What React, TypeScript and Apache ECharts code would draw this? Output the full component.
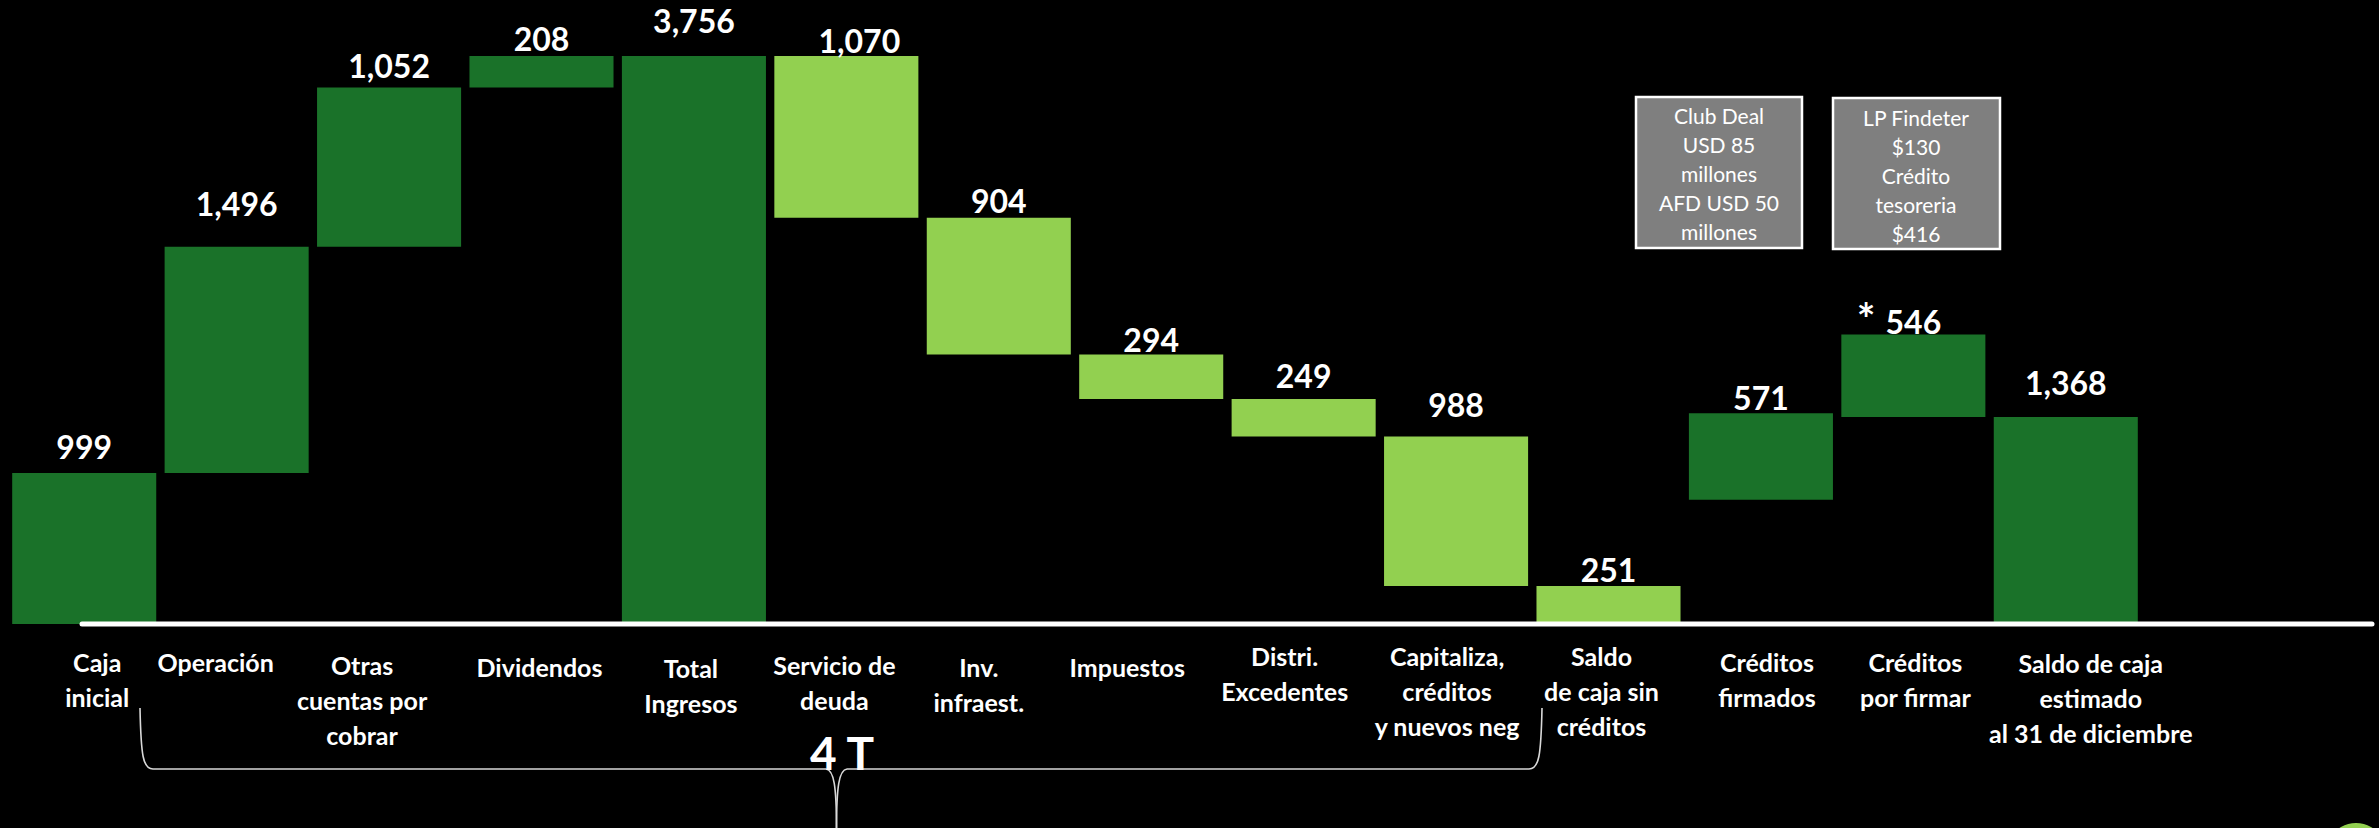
import React, { useEffect, useRef } from "react";
import * as echarts from "echarts";

const categories = [
  "Caja\ninicial",
  "Operación",
  "Otras\ncuentas por\ncobrar",
  "Dividendos",
  "Total\nIngresos",
  "Servicio de\ndeuda",
  "Inv.\ninfraest.",
  "Impuestos",
  "Distri.\nExcedentes",
  "Capitaliza,\ncréditos\ny nuevos neg",
  "Saldo\nde caja sin\ncréditos",
  "Créditos\nfirmados",
  "Créditos\npor firmar",
  "Saldo de caja\nestimado\nal 31 de diciembre",
];

// bar heights (value labels)
const values = [999, 1496, 1052, 208, 3756, 1070, 904, 294, 249, 988, 251, 571, 546, 1368];
// invisible floating bases
const bases = [0, 999, 2495, 3547, 0, 2686, 1782, 1488, 1239, 251, 0, 822, 1368, 0];
// "in" = inflow / total (dark green), "out" = outflow (light green)
const kinds = ["in", "in", "in", "in", "in", "out", "out", "out", "out", "out", "out", "in", "in", "in"];

const box1Lines = ["Club Deal", "USD 85", "millones", "AFD USD 50", "millones"];
const box2Lines = ["LP Findeter", "$130", "Crédito", "tesoreria", "$416"];
const braceText = "4 T";

// style: manual label placement (px) to mimic hand-placed texts
const labelLift = [10, 27, 6, 2, 19, -1, 1, -1, 7, 16, 1, 0, -3, 19];
const labelShiftX = [0, 0, 0, 0, 0, 13, 0, 0, 0, 0, 0, 0, 0, 0];
const catShiftX = [13, -21, -27, -2, -3, -12, -20, -24, -19, -9, -7, 6, 2, 25];
const catShiftY = [6, 6, 9, 11, 12, 9, 11, 11, 0, 0, 0, 6, 6, 7];

const DARK = "#1A7229";
const LIGHT = "#92D050";
const FONT = "Lato, 'Open Sans', sans-serif";

export default function App() {
  const ref = useRef<HTMLDivElement>(null);

  useEffect(() => {
    document.body.style.background = "#000";
    const chart = echarts.init(ref.current!, null, { renderer: "svg" });
    const braceStroke = { stroke: "#D9D9D9", lineWidth: 1.6, fill: null as any };
    chart.setOption({
      animation: false,
      backgroundColor: "#000000",
      grid: { left: 8, width: 2134, top: 19, bottom: 204, containLabel: false },
      xAxis: {
        type: "category",
        data: categories.map((c, i) => ({
          value: c,
          textStyle: {
            padding: [
              catShiftY[i],
              catShiftX[i] < 0 ? -2 * catShiftX[i] : 0,
              0,
              catShiftX[i] > 0 ? 2 * catShiftX[i] : 0,
            ],
          },
        })),
        axisLine: { show: false },
        axisTick: { show: false },
        axisLabel: {
          interval: 0,
          color: "#FFFFFF",
          fontFamily: FONT,
          fontWeight: "bold",
          fontSize: 25,
          lineHeight: 35,
          margin: 14,
          verticalAlign: "top",
        },
      },
      yAxis: {
        type: "value",
        min: 0,
        max: 4000,
        show: false,
        splitLine: { show: false },
      },
      series: [
        {
          type: "bar",
          stack: "w",
          barCategoryGap: "5.5%",
          data: bases,
          itemStyle: { color: "transparent" },
          silent: true,
        },
        {
          type: "bar",
          stack: "w",
          barCategoryGap: "5.5%",
          data: values.map((v, i) => ({
            value: v,
            itemStyle: { color: kinds[i] === "in" ? DARK : LIGHT },
            label: {
              show: true,
              position: "top",
              distance: labelLift[i],
              offset: [labelShiftX[i], 0],
            },
          })),
          label: {
            show: true,
            position: "top",
            color: "#FFFFFF",
            fontFamily: FONT,
            fontWeight: "bold",
            fontSize: 32,
            formatter: (p: any) => Number(p.value).toLocaleString("en-US"),
          },
        },
      ],
      graphic: [
        {
          type: "line",
          z: 100,
          shape: { x1: 82, y1: 624, x2: 2372, y2: 624 },
          style: { stroke: "#FFFFFF", lineWidth: 5, lineCap: "round" },
        },
        {
          type: "rect",
          shape: { x: 1636, y: 97, width: 166, height: 151 },
          style: { fill: "#7F7F7F", stroke: "#FFFFFF", lineWidth: 2.5 },
        },
        {
          type: "text",
          x: 1719,
          y: 173,
          style: {
            text: box1Lines.join("\n"),
            fill: "#FFFFFF",
            fontFamily: FONT,
            fontSize: 21,
            lineHeight: 29,
            align: "center",
            verticalAlign: "middle",
          },
        },
        {
          type: "rect",
          shape: { x: 1833, y: 98, width: 167, height: 151 },
          style: { fill: "#7F7F7F", stroke: "#FFFFFF", lineWidth: 2.5 },
        },
        {
          type: "text",
          x: 1916,
          y: 175,
          style: {
            text: box2Lines.join("\n"),
            fill: "#FFFFFF",
            fontFamily: FONT,
            fontSize: 21,
            lineHeight: 29,
            align: "center",
            verticalAlign: "middle",
          },
        },
        {
          type: "text",
          x: 1866,
          y: 318,
          style: {
            text: "*",
            fill: "#FFFFFF",
            fontFamily: FONT,
            fontWeight: "bold",
            fontSize: 44,
            align: "center",
            verticalAlign: "middle",
          },
        },
        // brace
        {
          type: "bezierCurve",
          shape: { x1: 140, y1: 708, cpx1: 141, cpy1: 756, cpx2: 143, cpy2: 769, x2: 153, y2: 769 },
          style: braceStroke,
        },
        {
          type: "line",
          shape: { x1: 153, y1: 769, x2: 826, y2: 769 },
          style: braceStroke,
        },
        {
          type: "bezierCurve",
          shape: { x1: 826, y1: 769, cpx1: 834, cpy1: 770, cpx2: 836.5, cpy2: 786, x2: 836.5, y2: 830 },
          style: braceStroke,
        },
        {
          type: "bezierCurve",
          shape: { x1: 847, y1: 769, cpx1: 839, cpy1: 770, cpx2: 836.5, cpy2: 786, x2: 836.5, y2: 830 },
          style: braceStroke,
        },
        {
          type: "line",
          shape: { x1: 847, y1: 769, x2: 1529, y2: 769 },
          style: braceStroke,
        },
        {
          type: "bezierCurve",
          shape: { x1: 1529, y1: 769, cpx1: 1539, cpy1: 769, cpx2: 1541, cpy2: 756, x2: 1542, y2: 708 },
          style: braceStroke,
        },
        {
          type: "text",
          x: 842,
          y: 752,
          style: {
            text: braceText,
            fill: "#FFFFFF",
            fontFamily: FONT,
            fontWeight: "bold",
            fontSize: 46,
            align: "center",
            verticalAlign: "middle",
          },
        },
        {
          type: "circle",
          shape: { cx: 2356, cy: 853, r: 30 },
          style: { fill: LIGHT },
        },
      ],
    });
    return () => chart.dispose();
  }, []);

  return (
    <div
      ref={ref}
      style={{ position: "absolute", left: 0, top: 0, width: 2379, height: 828, background: "#000" }}
    />
  );
}
